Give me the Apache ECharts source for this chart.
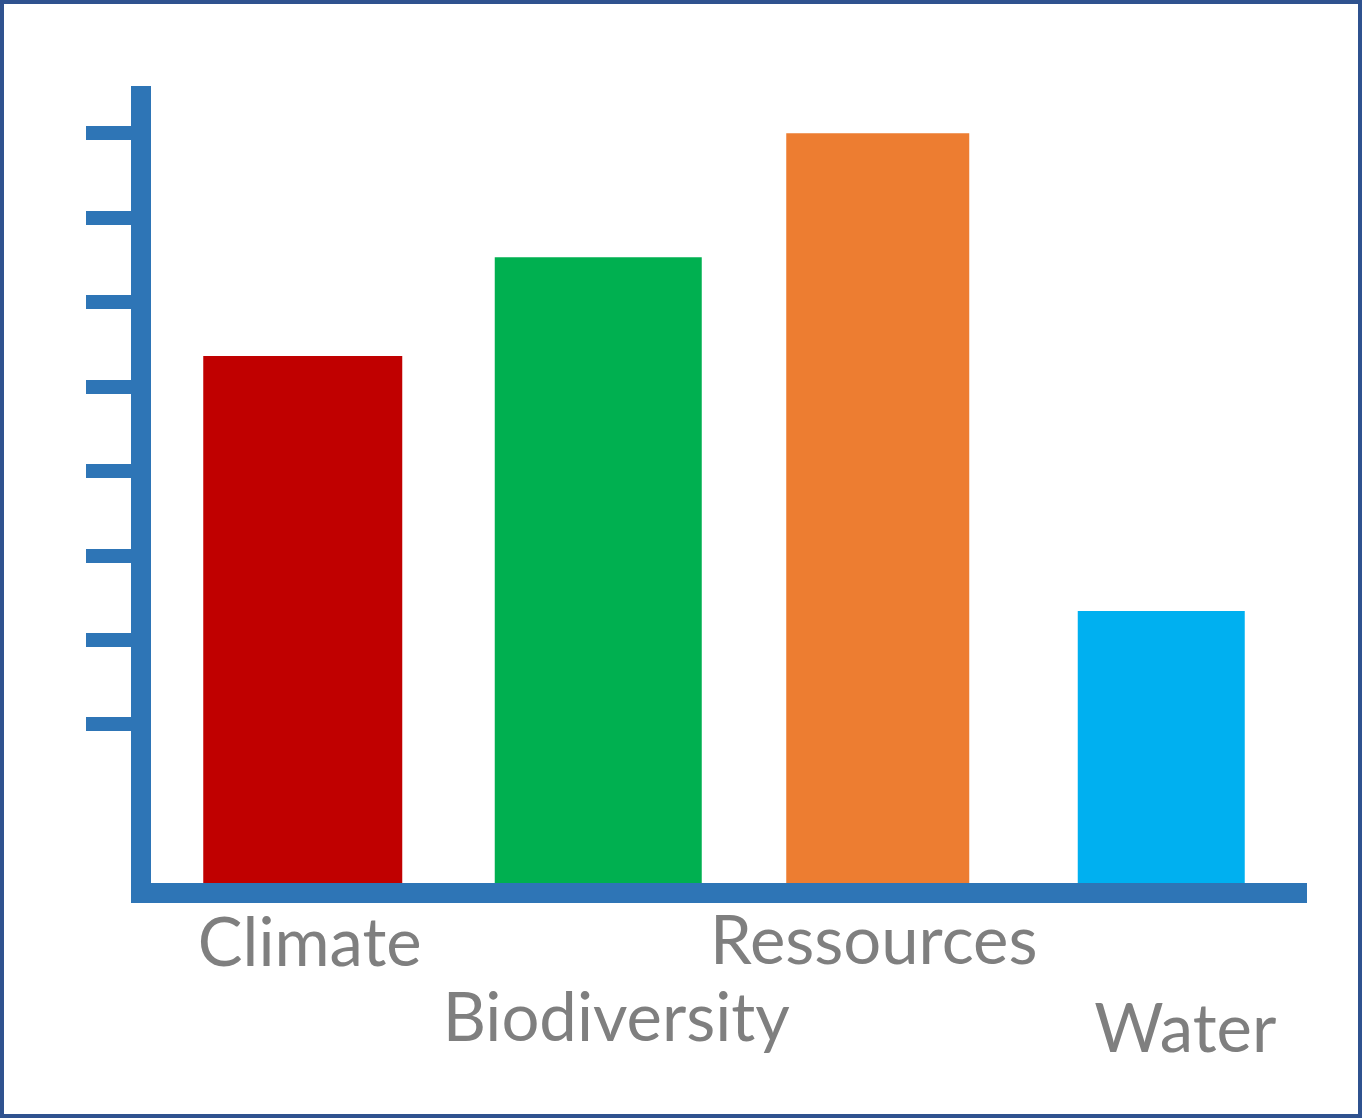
<!DOCTYPE html>
<html>
<head>
	<meta charset="utf-8">
	<title>Bar chart</title>
	<script src="https://cdn.jsdelivr.net/npm/echarts@6/dist/echarts.min.js"></script>
	<style>
		html, body { margin: 0; padding: 0; background: #fff; }
		#chart { position: absolute; left: 0; top: 0; width: 1362px; height: 1118px; }
		#frame { position: absolute; left: 0; top: 0; width: 1362px; height: 1118px; box-sizing: border-box; border: 4px solid #2F528F; pointer-events: none; }
	</style>
</head>
<body>
	<div id="chart"></div>
	<div id="frame"></div>
	<script>
		// data
		var categories = ['Climate', 'Biodiversity', 'Ressources', 'Water'];
		var values = [6.36, 7.53, 9.0, 3.34];
		var tickValues = [2, 3, 4, 5, 6, 7, 8, 9];

		// styles
		var barColors = ['#C00000', '#00B050', '#ED7D31', '#00B0F0'];
		var barWidths = [199, 207, 183, 167];
		// label padding: the top value moves the text down by half of it
		var labelPads = [[16, 0, 0, 46], [166, 0, 0, 76], [12, 0, 0, 8], [188, 0, 0, 48]];
		var axisBlue = '#2E75B6';

		var rich = {};
		labelPads.forEach(function (p, i) {
			rich['l' + i] = {
				fontFamily: 'Lato',
				fontSize: 67,
				lineHeight: 67,
				color: '#7F7F7F',
				padding: p
			};
		});

		// one series per category so each bar keeps its own width
		var series = categories.map(function (name, i) {
			var d = categories.map(function (c, j) {
				return j === i ? values[i] : '-';
			});
			return {
				name: name,
				type: 'bar',
				data: d,
				barWidth: barWidths[i],
				barGap: '-100%',
				itemStyle: { color: barColors[i] },
				silent: true
			};
		});

		var chart = echarts.init(document.getElementById('chart'));
		chart.setOption({
			animation: false,
			grid: { left: 141, right: 55, top: 96, bottom: 225, containLabel: false },
			xAxis: {
				type: 'category',
				data: categories,
				z: 5,
				axisLine: { lineStyle: { color: axisBlue, width: 20, cap: 'butt' } },
				axisTick: { show: false },
				axisLabel: {
					interval: 0,
					margin: 10,
					formatter: function (value, index) {
						return '{l' + index + '|' + value + '}';
					},
					rich: rich
				}
			},
			yAxis: {
				type: 'value',
				min: 0,
				max: 9.44,
				interval: 1,
				z: 5,
				axisLine: { show: true, lineStyle: { color: axisBlue, width: 20, cap: 'square' } },
				axisTick: {
					show: true,
					customValues: tickValues,
					length: 55,
					lineStyle: { color: axisBlue, width: 14 }
				},
				axisLabel: { show: false },
				splitLine: { show: false }
			},
			series: series
		});
	</script>
</body>
</html>
